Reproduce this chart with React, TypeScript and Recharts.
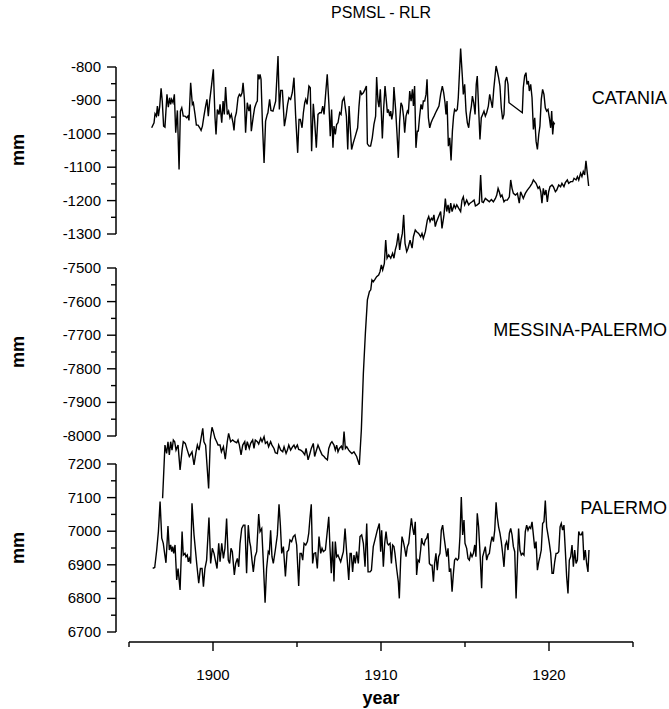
import { Line, LineChart, ReferenceLine, XAxis, YAxis } from "recharts";

// PSMSL RLR monthly mean sea level, mm
const catania: [number, number][] = [
  [1896.35, -982], [1896.49, -967], [1896.55, -940], [1896.63, -947], [1896.69, -917], [1896.75, -947],
  [1896.83, -917], [1896.91, -864], [1896.98, -902], [1897.06, -977], [1897.14, -980], [1897.26, -882],
  [1897.34, -920], [1897.42, -892], [1897.48, -912], [1897.54, -897], [1897.62, -907], [1897.7, -882],
  [1897.78, -997], [1897.88, -930], [1897.98, -1107], [1898.06, -932], [1898.14, -922], [1898.23, -947],
  [1898.33, -947], [1898.43, -952], [1898.51, -947], [1898.57, -960], [1898.67, -847], [1898.77, -912],
  [1898.83, -907], [1898.93, -942], [1899.01, -974], [1899.11, -974], [1899.21, -982], [1899.29, -990],
  [1899.37, -977], [1899.46, -947], [1899.56, -917], [1899.64, -897], [1899.72, -947], [1899.8, -902],
  [1899.92, -852], [1900.02, -807], [1900.12, -952], [1900.18, -1002], [1900.26, -927], [1900.36, -942],
  [1900.42, -912], [1900.52, -967], [1900.6, -902], [1900.67, -942], [1900.75, -860], [1900.85, -942],
  [1900.93, -932], [1901.01, -952], [1901.09, -942], [1901.19, -967], [1901.25, -990], [1901.31, -952],
  [1901.39, -937], [1901.49, -892], [1901.57, -882], [1901.65, -887], [1901.73, -877], [1901.79, -847],
  [1901.87, -897], [1901.94, -997], [1902.04, -907], [1902.14, -932], [1902.22, -912], [1902.28, -992],
  [1902.4, -947], [1902.48, -922], [1902.58, -907], [1902.64, -902], [1902.68, -822], [1902.74, -837],
  [1902.8, -822], [1902.86, -837], [1902.94, -967], [1903.04, -1087], [1903.13, -962], [1903.23, -942],
  [1903.27, -937], [1903.37, -897], [1903.45, -930], [1903.57, -932], [1903.65, -917], [1903.73, -902],
  [1903.87, -767], [1903.95, -927], [1904.03, -870], [1904.13, -870], [1904.25, -977], [1904.35, -947],
  [1904.44, -912], [1904.52, -892], [1904.62, -897], [1904.72, -877], [1904.82, -832], [1904.92, -947],
  [1905.04, -1057], [1905.12, -957], [1905.2, -957], [1905.3, -982], [1905.38, -937], [1905.46, -907],
  [1905.52, -897], [1905.6, -912], [1905.71, -857], [1905.79, -862], [1905.87, -1052], [1905.97, -910],
  [1906.05, -962], [1906.15, -1042], [1906.25, -942], [1906.35, -937], [1906.45, -937], [1906.53, -917],
  [1906.61, -942], [1906.71, -877], [1906.8, -822], [1906.9, -912], [1906.98, -1007], [1907.06, -927],
  [1907.14, -1042], [1907.2, -977], [1907.28, -1002], [1907.36, -972], [1907.44, -967], [1907.54, -937],
  [1907.62, -942], [1907.7, -902], [1907.8, -892], [1907.94, -947], [1908.02, -1047], [1908.1, -917],
  [1908.17, -982], [1908.25, -1047], [1908.35, -1027], [1908.47, -1007], [1908.61, -982], [1908.69, -917],
  [1908.77, -870], [1908.85, -882], [1908.95, -877], [1909.05, -867], [1909.13, -857], [1909.19, -1030],
  [1909.29, -1037], [1909.38, -1037], [1909.48, -1012], [1909.58, -972], [1909.68, -947], [1909.74, -830],
  [1909.82, -902], [1909.88, -920], [1909.96, -867], [1910.02, -937], [1910.08, -1014], [1910.16, -922],
  [1910.24, -857], [1910.32, -902], [1910.38, -937], [1910.44, -927], [1910.52, -947], [1910.58, -932],
  [1910.64, -957], [1910.71, -937], [1910.77, -860], [1910.87, -927], [1910.95, -997], [1911.03, -1072],
  [1911.11, -962], [1911.19, -907], [1911.27, -917], [1911.35, -952], [1911.41, -997], [1911.49, -947],
  [1911.57, -932], [1911.63, -937], [1911.71, -872], [1911.79, -902], [1911.87, -867], [1911.93, -917],
  [1912.0, -857], [1912.08, -1042], [1912.16, -992], [1912.22, -992], [1912.3, -947], [1912.38, -912],
  [1912.46, -927], [1912.52, -902], [1912.6, -902], [1912.68, -882], [1912.74, -837], [1912.82, -952],
  [1912.9, -982], [1912.98, -967], [1913.06, -957], [1913.16, -947], [1913.25, -937], [1913.35, -927],
  [1913.45, -917], [1913.55, -882], [1913.65, -857], [1913.73, -877], [1913.81, -907], [1913.87, -942],
  [1913.93, -902], [1914.01, -1037], [1914.09, -1012], [1914.17, -1080], [1914.25, -992], [1914.32, -947],
  [1914.38, -927], [1914.46, -932], [1914.54, -927], [1914.6, -892], [1914.74, -745], [1914.84, -827],
  [1914.9, -882], [1914.98, -852], [1915.06, -932], [1915.14, -967], [1915.22, -982], [1915.3, -942],
  [1915.38, -917], [1915.44, -887], [1915.52, -907], [1915.6, -942], [1915.67, -852], [1915.73, -827],
  [1915.81, -922], [1915.89, -1017], [1915.97, -952], [1916.05, -942], [1916.13, -932], [1916.21, -947],
  [1916.29, -937], [1916.39, -917], [1916.47, -882], [1916.55, -902], [1916.63, -922], [1916.71, -867],
  [1916.79, -827], [1916.85, -797], [1916.92, -812], [1917.0, -832], [1917.08, -857], [1917.16, -922],
  [1917.24, -957], [1917.32, -942], [1917.4, -842], [1917.48, -830], [1917.56, -852], [1917.62, -907],
  [1918.41, -937], [1918.47, -862], [1918.55, -827], [1918.63, -817], [1918.69, -852], [1918.77, -842],
  [1918.83, -872], [1918.91, -852], [1918.99, -892], [1919.07, -987], [1919.15, -952], [1919.23, -1022],
  [1919.31, -1047], [1919.39, -1002], [1919.46, -977], [1919.54, -897], [1919.62, -867], [1919.7, -882],
  [1919.78, -922], [1919.86, -932], [1919.94, -927], [1920.02, -952], [1920.1, -982], [1920.16, -932],
  [1920.22, -1002], [1920.28, -967], [1920.34, -972],
];

const messinaPalermo: [number, number][] = [
  [1897.0, -8185], [1897.14, -8027], [1897.24, -8052], [1897.32, -8017], [1897.4, -8056], [1897.48, -8017],
  [1897.56, -8042], [1897.64, -8012], [1897.72, -8017], [1897.8, -8042], [1897.92, -8027], [1898.04, -8101],
  [1898.16, -8042], [1898.23, -8017], [1898.35, -8022], [1898.47, -8042], [1898.59, -8061], [1898.75, -8047],
  [1898.87, -8086], [1898.99, -8047], [1899.07, -8027], [1899.17, -8042], [1899.27, -8012], [1899.39, -7977],
  [1899.46, -8017], [1899.56, -8027], [1899.74, -8156], [1899.84, -8012], [1899.94, -7974], [1900.02, -7987],
  [1900.12, -8007], [1900.22, -8017], [1900.3, -8027], [1900.42, -8027], [1900.5, -8047], [1900.62, -8032],
  [1900.73, -8069], [1900.85, -8017], [1900.93, -7992], [1901.05, -8017], [1901.17, -8012], [1901.29, -8017],
  [1901.41, -8020], [1901.49, -8012], [1901.57, -8027], [1901.67, -8056], [1901.77, -8027], [1901.89, -8017],
  [1901.95, -8042], [1902.04, -8017], [1902.16, -8037], [1902.24, -8022], [1902.36, -8012], [1902.44, -8037],
  [1902.52, -8012], [1902.64, -8017], [1902.72, -8024], [1902.84, -8007], [1902.92, -8017], [1903.04, -8002],
  [1903.12, -8022], [1903.23, -8017], [1903.31, -8032], [1903.43, -8017], [1903.51, -8027], [1903.63, -8037],
  [1903.71, -8050], [1903.83, -8052], [1903.91, -8027], [1904.03, -8042], [1904.15, -8047], [1904.23, -8032],
  [1904.35, -8052], [1904.43, -8042], [1904.51, -8027], [1904.62, -8042], [1904.74, -8032], [1904.82, -8027],
  [1904.9, -8037], [1905.02, -8027], [1905.1, -8040], [1905.22, -8042], [1905.34, -8047], [1905.46, -8056],
  [1905.54, -8037], [1905.66, -8071], [1905.77, -8052], [1905.85, -8037], [1905.97, -8022], [1906.05, -8061],
  [1906.13, -8047], [1906.25, -8027], [1906.37, -8042], [1906.49, -8056], [1906.61, -8061], [1906.69, -8066],
  [1906.81, -8071], [1906.89, -8037], [1907.0, -8022], [1907.08, -8017], [1907.2, -8027], [1907.28, -8042],
  [1907.36, -8027], [1907.44, -8047], [1907.52, -8037], [1907.64, -8030], [1907.72, -8042], [1907.8, -7987],
  [1907.88, -8037], [1907.96, -8032], [1908.08, -8042], [1908.16, -8047], [1908.27, -8052], [1908.39, -8047],
  [1908.55, -8061], [1908.71, -8086], [1908.83, -7982], [1908.95, -7813], [1909.07, -7694], [1909.19, -7595],
  [1909.31, -7570], [1909.39, -7565], [1909.46, -7536], [1909.54, -7541], [1909.64, -7534], [1909.74, -7526],
  [1909.86, -7521], [1909.94, -7511], [1910.02, -7491], [1910.1, -7506], [1910.2, -7486], [1910.28, -7417],
  [1910.36, -7471], [1910.46, -7461], [1910.58, -7471], [1910.69, -7456], [1910.77, -7471], [1910.85, -7446],
  [1910.93, -7431], [1911.03, -7397], [1911.11, -7446], [1911.19, -7417], [1911.27, -7397], [1911.35, -7342],
  [1911.43, -7427], [1911.53, -7451], [1911.61, -7441], [1911.73, -7417], [1911.85, -7441], [1911.93, -7407],
  [1912.04, -7387], [1912.12, -7392], [1912.24, -7397], [1912.36, -7407], [1912.44, -7397], [1912.52, -7412],
  [1912.64, -7392], [1912.76, -7357], [1912.84, -7347], [1912.92, -7362], [1913.0, -7352], [1913.08, -7357],
  [1913.15, -7342], [1913.23, -7377], [1913.31, -7362], [1913.43, -7347], [1913.55, -7332], [1913.63, -7382],
  [1913.75, -7342], [1913.83, -7293], [1913.91, -7332], [1913.99, -7312], [1914.07, -7337], [1914.15, -7307],
  [1914.23, -7332], [1914.35, -7312], [1914.43, -7322], [1914.51, -7312], [1914.62, -7322], [1914.74, -7332],
  [1914.82, -7298], [1914.9, -7288], [1914.98, -7312], [1915.1, -7298], [1915.22, -7312], [1915.3, -7307],
  [1915.42, -7303], [1915.54, -7298], [1915.62, -7315], [1915.73, -7312], [1915.85, -7307], [1915.93, -7223],
  [1916.01, -7303], [1916.09, -7305], [1916.21, -7293], [1916.33, -7298], [1916.45, -7303], [1916.57, -7296],
  [1916.69, -7303], [1916.81, -7293], [1916.89, -7283], [1916.97, -7263], [1917.04, -7273], [1917.12, -7288],
  [1917.2, -7283], [1917.32, -7303], [1917.4, -7298], [1917.52, -7298], [1917.64, -7288], [1917.72, -7238],
  [1917.8, -7263], [1917.88, -7278], [1918.0, -7283], [1918.12, -7278], [1918.23, -7307], [1918.31, -7273],
  [1918.39, -7283], [1918.47, -7293], [1918.59, -7278], [1918.71, -7268], [1918.79, -7263], [1918.87, -7258],
  [1918.99, -7248], [1919.07, -7238], [1919.15, -7243], [1919.23, -7248], [1919.35, -7263], [1919.43, -7258],
  [1919.51, -7273], [1919.58, -7307], [1919.66, -7263], [1919.74, -7283], [1919.82, -7268], [1919.9, -7303],
  [1919.98, -7273], [1920.06, -7258], [1920.18, -7253], [1920.26, -7258], [1920.38, -7273], [1920.46, -7268],
  [1920.58, -7253], [1920.69, -7258], [1920.77, -7248], [1920.89, -7258], [1920.97, -7246], [1921.09, -7238],
  [1921.17, -7248], [1921.29, -7243], [1921.41, -7243], [1921.49, -7233], [1921.61, -7238], [1921.69, -7228],
  [1921.77, -7238], [1921.88, -7218], [1921.96, -7228], [1922.04, -7213], [1922.12, -7223], [1922.2, -7181],
  [1922.28, -7218], [1922.36, -7256],
];

const palermo: [number, number][] = [
  [1896.41, 6889], [1896.53, 6892], [1896.65, 6944], [1896.75, 6999], [1896.85, 7088], [1896.95, 6979],
  [1897.04, 6964], [1897.12, 6934], [1897.2, 6906], [1897.32, 7015], [1897.4, 6944], [1897.48, 6959],
  [1897.54, 6939], [1897.6, 6954], [1897.66, 6934], [1897.74, 6959], [1897.84, 6855], [1897.92, 6889],
  [1898.04, 6825], [1898.16, 6999], [1898.23, 6929], [1898.33, 6934], [1898.39, 6924], [1898.47, 6929],
  [1898.53, 6909], [1898.59, 6919], [1898.67, 6904], [1898.75, 7083], [1898.87, 6989], [1899.03, 6904],
  [1899.15, 6845], [1899.25, 6889], [1899.35, 6889], [1899.43, 6835], [1899.52, 6889], [1899.62, 6914],
  [1899.76, 7041], [1899.86, 6904], [1899.96, 6949], [1900.06, 6934], [1900.16, 6909], [1900.24, 6889],
  [1900.34, 6964], [1900.42, 6909], [1900.52, 6964], [1900.62, 6919], [1900.71, 6949], [1900.81, 7038],
  [1900.91, 6914], [1900.99, 6904], [1901.07, 6949], [1901.15, 6939], [1901.27, 6870], [1901.35, 6904],
  [1901.45, 6919], [1901.53, 6894], [1901.61, 6964], [1901.71, 7008], [1901.81, 7018], [1901.9, 7018],
  [1902.0, 6875], [1902.1, 7018], [1902.18, 6969], [1902.24, 6954], [1902.32, 6914], [1902.4, 6879],
  [1902.5, 6924], [1902.6, 6939], [1902.72, 7051], [1902.8, 6999], [1902.9, 7008], [1902.99, 6914],
  [1903.1, 6787], [1903.19, 6889], [1903.29, 6939], [1903.35, 6934], [1903.43, 7003], [1903.51, 6924],
  [1903.59, 6904], [1903.71, 6944], [1903.83, 6989], [1903.93, 7080], [1904.01, 7018], [1904.09, 6934],
  [1904.19, 6954], [1904.31, 6865], [1904.41, 6939], [1904.5, 6944], [1904.58, 6974], [1904.68, 6969],
  [1904.78, 6984], [1904.88, 6989], [1904.98, 6959], [1905.1, 6837], [1905.18, 6934], [1905.26, 6934],
  [1905.34, 6914], [1905.42, 6964], [1905.52, 6959], [1905.62, 6969], [1905.7, 6994], [1905.77, 7038],
  [1905.85, 7080], [1905.93, 6904], [1906.01, 6934], [1906.11, 6936], [1906.21, 6889], [1906.31, 6984],
  [1906.41, 6934], [1906.49, 6949], [1906.57, 6939], [1906.69, 6944], [1906.81, 7003], [1906.89, 7043],
  [1906.96, 6954], [1907.04, 6875], [1907.12, 6969], [1907.2, 6850], [1907.28, 6969], [1907.36, 6924],
  [1907.44, 6929], [1907.52, 6919], [1907.6, 6909], [1907.68, 6924], [1907.76, 6939], [1907.86, 7008],
  [1907.96, 6934], [1908.08, 6855], [1908.16, 6934], [1908.23, 6934], [1908.31, 6879], [1908.39, 6929],
  [1908.47, 6904], [1908.55, 6939], [1908.65, 6904], [1908.75, 6984], [1908.85, 6989], [1908.95, 6964],
  [1909.05, 6894], [1909.15, 7023], [1909.23, 6879], [1909.35, 6879], [1909.43, 6884], [1909.54, 6954],
  [1909.64, 6974], [1909.78, 7003], [1909.9, 7023], [1909.98, 6939], [1910.04, 7003], [1910.14, 6894],
  [1910.22, 6964], [1910.3, 6999], [1910.38, 6964], [1910.44, 6959], [1910.54, 6964], [1910.62, 6904],
  [1910.69, 6959], [1910.77, 6954], [1910.83, 6934], [1910.93, 6889], [1911.03, 6850], [1911.09, 6800],
  [1911.17, 6914], [1911.25, 6984], [1911.33, 6969], [1911.41, 6949], [1911.49, 6924], [1911.57, 6954],
  [1911.65, 6964], [1911.73, 7003], [1911.81, 7038], [1911.89, 7008], [1911.96, 6989], [1912.04, 7028],
  [1912.12, 6870], [1912.2, 6914], [1912.28, 6909], [1912.36, 6944], [1912.42, 6979], [1912.48, 6964],
  [1912.56, 6959], [1912.64, 6974], [1912.72, 6979], [1912.8, 6994], [1912.88, 6904], [1912.96, 6899],
  [1913.04, 6899], [1913.12, 6850], [1913.19, 6904], [1913.27, 6934], [1913.35, 6884], [1913.43, 6924],
  [1913.51, 6934], [1913.59, 7003], [1913.67, 7018], [1913.75, 6984], [1913.83, 6954], [1913.91, 6924],
  [1913.99, 6949], [1914.07, 6879], [1914.15, 6889], [1914.23, 6820], [1914.31, 6875], [1914.38, 6914],
  [1914.46, 6919], [1914.54, 6914], [1914.62, 6919], [1914.7, 6984], [1914.78, 7102], [1914.86, 6989],
  [1914.94, 7033], [1915.0, 6964], [1915.1, 6949], [1915.18, 6919], [1915.26, 6914], [1915.34, 6934],
  [1915.42, 6924], [1915.5, 6934], [1915.58, 6959], [1915.65, 6924], [1915.73, 7053], [1915.81, 7013],
  [1915.89, 6939], [1915.99, 6830], [1916.05, 6924], [1916.13, 6939], [1916.21, 6954], [1916.29, 6914],
  [1916.37, 6929], [1916.45, 6934], [1916.53, 6964], [1916.61, 6984], [1916.69, 6969], [1916.77, 7003],
  [1916.85, 7086], [1916.92, 7043], [1917.0, 7013], [1917.08, 6994], [1917.16, 6969], [1917.24, 6934],
  [1917.32, 6894], [1917.4, 6959], [1917.48, 6969], [1917.56, 6944], [1917.64, 6994], [1917.72, 7008],
  [1917.8, 6989], [1917.88, 6954], [1917.96, 6939], [1918.04, 6800], [1918.12, 6909], [1918.19, 7008],
  [1918.27, 6944], [1918.35, 6929], [1918.43, 6934], [1918.51, 6929], [1918.59, 6999], [1918.67, 7018],
  [1918.75, 7003], [1918.83, 7013], [1918.91, 7008], [1918.99, 7028], [1919.07, 6989], [1919.15, 6949],
  [1919.23, 6969], [1919.31, 6884], [1919.39, 6909], [1919.46, 6924], [1919.54, 6944], [1919.62, 7023],
  [1919.7, 7028], [1919.78, 7091], [1919.86, 7013], [1919.94, 6989], [1920.02, 6964], [1920.1, 6934],
  [1920.18, 6875], [1920.26, 6875], [1920.34, 6909], [1920.42, 6934], [1920.5, 6934], [1920.58, 6939],
  [1920.66, 7013], [1920.73, 7023], [1920.81, 7003], [1920.89, 7018], [1920.97, 6944], [1921.05, 6865],
  [1921.13, 6815], [1921.21, 6914], [1921.29, 6924], [1921.37, 6959], [1921.45, 6894], [1921.53, 6944],
  [1921.61, 6904], [1921.69, 6914], [1921.77, 6999], [1921.85, 6989], [1921.92, 6989], [1922.0, 6999],
  [1922.08, 6914], [1922.16, 6944], [1922.24, 6904], [1922.32, 6879], [1922.38, 6944],
];

const cataniaTicks = [-1300, -1250, -1200, -1150, -1100, -1050, -1000, -950, -900, -850, -800];
const messinaTicks = [-8000, -7950, -7900, -7850, -7800, -7750, -7700, -7650, -7600, -7550, -7500];
const palermoTicks = [6700, 6750, 6800, 6850, 6900, 6950, 7000, 7050, 7100, 7150, 7200];
const yearTicks = [1895, 1900, 1905, 1910, 1915, 1920, 1925];

const FONT = '"Liberation Sans", Arial, Helvetica, sans-serif';
const W = 669;
const H = 709;

// plot frame in pixels; each panel maps its tick range onto a pixel band
const PLOT_LEFT = 116;
const PLOT_RIGHT = 633;
const PLOT_TOP = 30;
const PLOT_BOTTOM = 642;
const AXIS_W = 1; // recharts skips axes of zero size

function panelDomain(topVal: number, topPx: number, bottomVal: number, bottomPx: number): [number, number] {
  const k = (topVal - bottomVal) / (bottomPx - topPx);
  return [bottomVal - (PLOT_BOTTOM - bottomPx) * k, topVal + (topPx - PLOT_TOP) * k];
}

const xDomain: [number, number] = [1900 - (213 - PLOT_LEFT) / 16.8, 1925];
const catDomain = panelDomain(-800, 67, -1300, 234);
const mesDomain = panelDomain(-7500, 268, -8000, 436);
const palDomain = panelDomain(7200, 464, 6700, 632);

const toRows = (pts: [number, number][]) => pts.map(([year, mm]) => ({ year, mm }));

function YTick(props: any) {
  const { y, payload } = props;
  const x = PLOT_LEFT;
  const major = payload.value % 100 === 0;
  return (
    <g>
      <line x1={x - (major ? 9 : 5)} x2={x} y1={y} y2={y} stroke="#000" strokeWidth={1.4} />
      {major && (
        <text x={x - 15} y={y} dy={5} textAnchor="end" fontSize={15} fontFamily={FONT} fill="#000">
          {payload.value}
        </text>
      )}
    </g>
  );
}

function XTick(props: any) {
  const { x, payload } = props;
  const y = PLOT_BOTTOM;
  const major = payload.value % 10 === 0;
  return (
    <g>
      <line x1={x} x2={x} y1={y} y2={y + (major ? 9 : 5)} stroke="#000" strokeWidth={1.4} />
      {major && (
        <text x={x} y={y + 38} textAnchor="middle" fontSize={15} fontFamily={FONT} fill="#000">
          {payload.value}
        </text>
      )}
    </g>
  );
}

const label = (top: number, extra: React.CSSProperties): React.CSSProperties => ({
  position: "absolute",
  top,
  fontFamily: FONT,
  color: "#000",
  whiteSpace: "nowrap",
  lineHeight: "18px",
  ...extra,
});

function MmLabel({ cy }: { cy: number }) {
  return (
    <div
      style={label(cy - 9, {
        left: 18 - 20,
        width: 40,
        textAlign: "center",
        fontSize: 18,
        fontWeight: "bold",
        transform: "rotate(-90deg)",
      })}
    >
      mm
    </div>
  );
}

export default function App() {
  const line = { type: "linear" as const, dataKey: "mm", stroke: "#000", strokeWidth: 1.4, dot: false, isAnimationActive: false };
  const axisStroke = { stroke: "#000", strokeWidth: 1.5, ifOverflow: "visible" as const };
  const yAxisCommon = {
    type: "number" as const,
    allowDataOverflow: true,
    interval: 0 as const,
    width: AXIS_W,
    axisLine: false,
    tickLine: false,
    tickSize: 0,
    tickMargin: 0,
    tick: <YTick />,
  };
  return (
    <div style={{ position: "absolute", left: 0, top: 0, width: W, height: H, background: "#fff" }}>
      <LineChart
        width={W}
        height={H}
        margin={{ top: PLOT_TOP, right: W - PLOT_RIGHT, bottom: H - PLOT_BOTTOM - AXIS_W, left: PLOT_LEFT - 3 * AXIS_W }}
      >
        <XAxis
          type="number"
          dataKey="year"
          domain={xDomain}
          allowDataOverflow
          ticks={yearTicks}
          interval={0}
          height={AXIS_W}
          axisLine={false}
          tickLine={false}
          tickSize={0}
          tickMargin={0}
          tick={<XTick />}
        />
        <YAxis yAxisId="cat" domain={catDomain} ticks={cataniaTicks} {...yAxisCommon} />
        <YAxis yAxisId="mes" domain={mesDomain} ticks={messinaTicks} {...yAxisCommon} />
        <YAxis yAxisId="pal" domain={palDomain} ticks={palermoTicks} {...yAxisCommon} />

        <ReferenceLine yAxisId="cat" segment={[{ x: xDomain[0], y: -800 }, { x: xDomain[0], y: -1300 }]} {...axisStroke} />
        <ReferenceLine yAxisId="mes" segment={[{ x: xDomain[0], y: -7500 }, { x: xDomain[0], y: -8000 }]} {...axisStroke} />
        <ReferenceLine yAxisId="pal" segment={[{ x: xDomain[0], y: 7200 }, { x: xDomain[0], y: 6700 }]} {...axisStroke} />
        <ReferenceLine yAxisId="pal" segment={[{ x: 1895, y: palDomain[0] }, { x: 1925, y: palDomain[0] }]} {...axisStroke} />

        <Line yAxisId="cat" data={toRows(catania)} name="CATANIA" {...line} />
        <Line yAxisId="mes" data={toRows(messinaPalermo)} name="MESSINA-PALERMO" {...line} />
        <Line yAxisId="pal" data={toRows(palermo)} name="PALERMO" {...line} />
      </LineChart>

      <div style={label(4, { left: 381 - 100, width: 200, textAlign: "center", fontSize: 16 })}>PSMSL - RLR</div>
      <div style={label(89, { right: 2, fontSize: 18 })}>CATANIA</div>
      <div style={label(321, { right: 2, fontSize: 18 })}>MESSINA-PALERMO</div>
      <div style={label(499, { right: 2, fontSize: 18 })}>PALERMO</div>
      <MmLabel cy={150} />
      <MmLabel cy={352} />
      <MmLabel cy={548} />
      <div style={label(689, { left: 381 - 50, width: 100, textAlign: "center", fontSize: 18, fontWeight: "bold" })}>
        year
      </div>
    </div>
  );
}
